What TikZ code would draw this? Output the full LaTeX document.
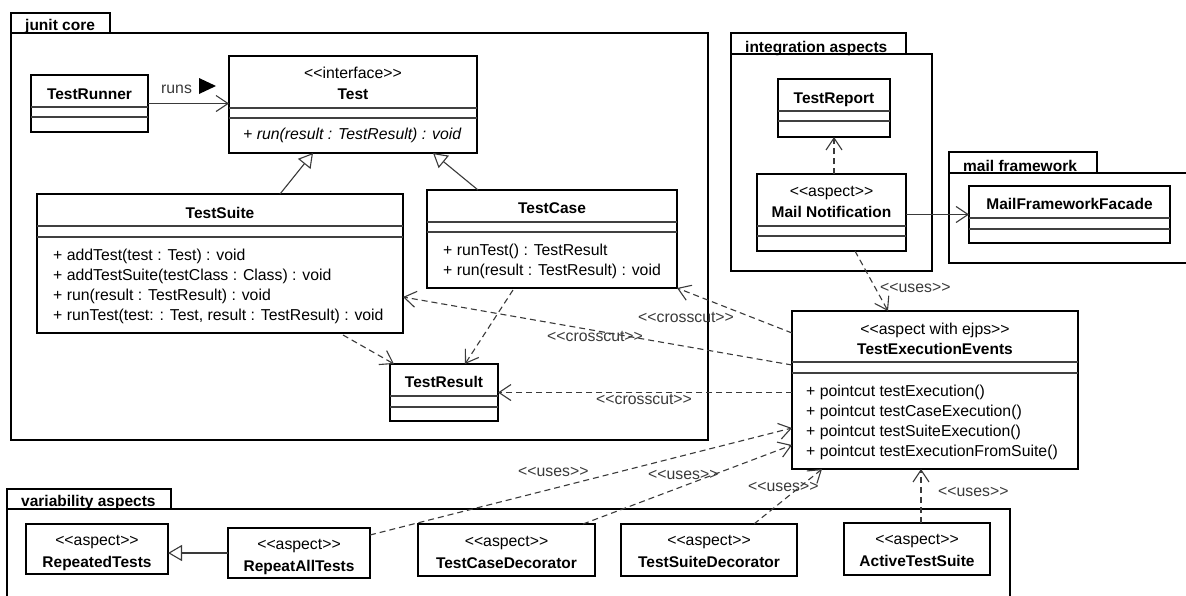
\documentclass[tikz,border=0pt]{standalone}
\usepackage{fontspec}
\setmainfont{Liberation Sans}[Ligatures=TeXOff]
\usetikzlibrary{arrows.meta,calc}
\definecolor{conn}{HTML}{3A3A3A}
\definecolor{sepc}{HTML}{404040}
\newcommand\fb{\fontsize{15.5pt}{18pt}\selectfont\bfseries}
\newcommand\fr{\fontsize{15.8pt}{18pt}\selectfont}
\newcommand\fri{\fontsize{15.8pt}{18pt}\selectfont\itshape}
\begin{document}
\begin{tikzpicture}[x=1pt,y=-1pt,
 box/.style={draw=black,line width=2pt,fill=white,inner sep=0pt,outer sep=0pt,anchor=north west},
 sepl/.style={draw=sepc,line width=1.1pt},
 pkg/.style={draw=black,line width=2pt},
 pkgname/.style={font=\fb,anchor=base west,inner sep=0pt},
 nm/.style={font=\fb,anchor=base,inner sep=0pt},
 ster/.style={font=\fr,anchor=base,inner sep=0pt},
 mt/.style={font=\fr,anchor=base west,inner sep=0pt},
 lbl/.style={font=\fr,anchor=base west,inner sep=0pt,text=conn},
 dep/.style={draw=conn,line width=1.1pt,dash pattern=on 6pt off 4pt,-{Straight Barb[length=12pt,width=16pt]}},
 asc/.style={draw=conn,line width=1.1pt,-{Straight Barb[length=12pt,width=16pt]}},
 gen/.style={draw=conn,line width=1.1pt,-{Triangle[open,length=14pt,width=16pt,fill=white]}}]

\useasboundingbox (0,0) rectangle (1186,595);
\fill[white] (0,0) rectangle (1186,595);

% ---------- packages ----------
\draw[pkg] (11,13) rectangle (110,33);
\draw[pkg] (11,33) rectangle (708,440);
\node[pkgname] (pjunit) at (25,30) {junit core};

\draw[pkg] (731,33) rectangle (906,54);
\draw[pkg] (731,54) rectangle (932,271);
\node[pkgname] (pinteg) at (745,52) {integration aspects};

\draw[pkg] (949,152) rectangle (1097,173);
\draw[pkg] (949,173) rectangle (1195,263);
\node[pkgname] (pmail) at (963,171) {mail framework};

\draw[pkg] (7,489) rectangle (171,509);
\draw[pkg] (7,509) rectangle (1010,605);
\node[pkgname] (pvar) at (21,506) {variability aspects};

% ---------- junit core classes ----------
\node[box,minimum width=117,minimum height=57] (runner) at (31,75) {};
\draw[sepl] (31,107) -- (148,107);
\draw[sepl] (31,117) -- (148,117);
\node[nm] (runnerN) at (89.5,99) {TestRunner};

\node[box,minimum width=248,minimum height=97] (test) at (229,56) {};
\draw[sepl] (229,108) -- (477,108);
\draw[sepl] (229,118) -- (477,118);
\node[ster] (testS) at (353,78) {<<interface>>};
\node[nm] (testN) at (353,99) {Test};
\node[mt,font=\fri] (testM) at (243,139) {+ run(result : TestResult) : void};

\node[box,minimum width=366,minimum height=139] (suite) at (37,194) {};
\draw[sepl] (37,226) -- (403,226);
\draw[sepl] (37,237) -- (403,237);
\node[nm] (suiteN) at (220,218) {TestSuite};
\node[mt] (suiteM1) at (53,260) {+ addTest(test : Test) : void};
\node[mt] (suiteM2) at (53,280) {+ addTestSuite(testClass : Class) : void};
\node[mt] (suiteM3) at (53,300) {+ run(result : TestResult) : void};
\node[mt] (suiteM4) at (53,320) {+ runTest(test: : Test, result : TestResult) : void};

\node[box,minimum width=250,minimum height=98] (tcase) at (427,190) {};
\draw[sepl] (427,222) -- (677,222);
\draw[sepl] (427,232) -- (677,232);
\node[nm] (tcaseN) at (552,213) {TestCase};
\node[mt] (tcaseM1) at (443,255) {+ runTest() : TestResult};
\node[mt] (tcaseM2) at (443,275) {+ run(result : TestResult) : void};

\node[box,minimum width=108,minimum height=57] (tres) at (390,364) {};
\draw[sepl] (390,396) -- (498,396);
\draw[sepl] (390,407) -- (498,407);
\node[nm] (tresN) at (444,387) {TestResult};

% ---------- integration aspects ----------
\node[box,minimum width=112,minimum height=58] (trep) at (778,79) {};
\draw[sepl] (778,111) -- (890,111);
\draw[sepl] (778,121) -- (890,121);
\node[nm] (trepN) at (834,103) {TestReport};

\node[box,minimum width=149,minimum height=77] (mail) at (757,174) {};
\draw[sepl] (757,226) -- (906,226);
\draw[sepl] (757,236) -- (906,236);
\node[ster] (mailS) at (831.5,196) {<<aspect>>};
\node[nm] (mailN) at (831.5,217) {Mail Notification};

% ---------- mail framework ----------
\node[box,minimum width=201,minimum height=57] (mff) at (969,186) {};
\draw[sepl] (969,218) -- (1170,218);
\draw[sepl] (969,229) -- (1170,229);
\node[nm] (mffN) at (1069.5,209) {MailFrameworkFacade};

% ---------- TestExecutionEvents ----------
\node[box,minimum width=286,minimum height=158] (tee) at (792,311) {};
\draw[sepl] (792,362) -- (1078,362);
\draw[sepl] (792,373) -- (1078,373);
\node[ster] (teeS) at (935,334) {<<aspect with ejps>>};
\node[nm] (teeN) at (935,354) {TestExecutionEvents};
\node[mt] (teeM1) at (806,396) {+ pointcut testExecution()};
\node[mt] (teeM2) at (806,416) {+ pointcut testCaseExecution()};
\node[mt] (teeM3) at (806,436) {+ pointcut testSuiteExecution()};
\node[mt] (teeM4) at (806,456) {+ pointcut testExecutionFromSuite()};

% ---------- variability aspects ----------
\node[box,minimum width=142,minimum height=50] (rtests) at (26,524) {};
\node[ster] (rtestsS) at (97,545) {<<aspect>>};
\node[nm] (rtestsN) at (97,567) {RepeatedTests};

\node[box,minimum width=142,minimum height=50] (rall) at (228,528) {};
\node[ster] (rallS) at (299,549) {<<aspect>>};
\node[nm] (rallN) at (299,571) {RepeatAllTests};

\node[box,minimum width=177,minimum height=52] (tcd) at (418,524) {};
\node[ster] (tcdS) at (506.5,546) {<<aspect>>};
\node[nm] (tcdN) at (506.5,568) {TestCaseDecorator};

\node[box,minimum width=176,minimum height=52] (tsd) at (621,524) {};
\node[ster] (tsdS) at (709,545) {<<aspect>>};
\node[nm] (tsdN) at (709,567) {TestSuiteDecorator};

\node[box,minimum width=146,minimum height=52] (ats) at (844,523) {};
\node[ster] (atsS) at (917,544) {<<aspect>>};
\node[nm] (atsN) at (917,566) {ActiveTestSuite};

% ---------- connectors ----------
\draw[asc] (runner.east) -- (runner.east -| test.west);
\node[lbl] (lruns) at (161,93) {runs};
\fill[black] (199,78) -- (199,94) -- (216,86) -- cycle;

\draw[gen] ($(suite.north west)+(243,0)$) -- ($(test.south west)+(84,0)$);
\draw[gen] ($(tcase.north west)+(51,0)$) -- ($(test.south west)+(204,0)$);

\draw[dep] ($(suite.south west)+(306,2)$) -- ($(tres.north west)+(4,0)$);
\draw[dep] ($(tcase.south west)+(86,2)$) -- ($(tres.north west)+(75,0)$);

\draw[dep] ($(tee.north west)+(0,22)$) -- (tcase.south east);
\node[lbl] (lcc1) at (638,322) {<<crosscut>>};
\draw[dep] ($(tee.north west)+(0,54)$) -- ($(suite.north east)+(0,103)$);
\node[lbl] (lcc2) at (547,341) {<<crosscut>>};
\draw[dep] (tee.west |- tres.east) -- (tres.east);
\node[lbl] (lcc3) at (596,404) {<<crosscut>>};

\draw[dep] (trep.south |- mail.north) -- (trep.south);
\draw[asc] (mail.east |- mff.west) -- (mff.west);
\draw[dep] ($(mail.south west)+(98,0)$) -- ($(tee.north west)+(96,0)$);
\node[lbl] (lu5) at (880,292) {<<uses>>};

\draw[gen] (rall.west) -- (rall.west -| rtests.east);

\draw[dep] ($(rall.north east)+(0,7)$) -- ($(tee.north west)+(0,117)$);
\node[lbl] (lu1) at (518,476) {<<uses>>};
\draw[dep] ($(tcd.north west)+(165,0)$) -- ($(tee.north west)+(0,134)$);
\node[lbl] (lu2) at (648,479) {<<uses>>};
\draw[dep] ($(tsd.north west)+(133,0)$) -- ($(tee.south west)+(30,0)$);
\node[lbl] (lu3) at (748,491) {<<uses>>};
\draw[dep] ($(ats.north)+(4,0)$) -- ($(ats.north |- tee.south)+(4,0)$);
\node[lbl] (lu4) at (938,496) {<<uses>>};
\end{tikzpicture}
\end{document}
